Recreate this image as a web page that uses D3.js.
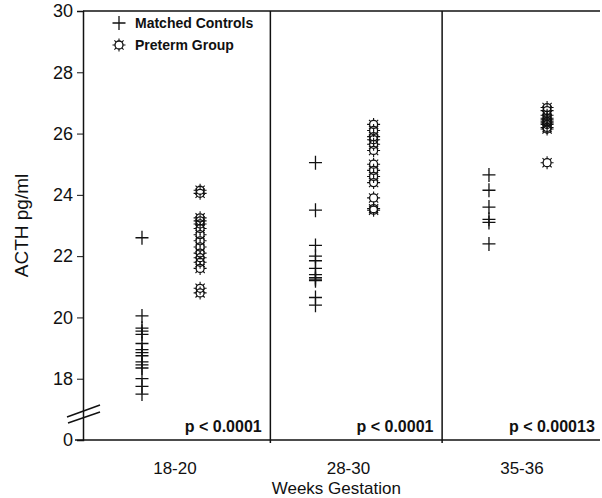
<!DOCTYPE html>
<html><head><meta charset="utf-8">
<script src="https://cdn.jsdelivr.net/npm/d3@7"></script>
<style>body{margin:0;background:#fff}svg{display:block}text{font-family:"Liberation Sans",Arial,sans-serif;fill:#111}</style>
</head><body><svg id="c" width="602" height="498"></svg>
<script>
const groups = ["18-20", "28-30", "35-36"];
const controls1 = [22.6, 20.05, 19.65, 19.55, 19.45, 19.15, 18.95, 18.85, 18.75, 18.55, 18.45, 18.35, 18.0, 17.75, 17.5];
const preterm1 = [24.15, 24.05, 23.25, 23.15, 23.05, 22.9, 22.7, 22.5, 22.3, 22.1, 21.95, 21.8, 21.6, 20.95, 20.8];
const controls2 = [25.05, 23.5, 22.35, 22.0, 21.85, 21.6, 21.4, 21.3, 21.25, 21.2, 20.65, 20.4];
const preterm2 = [26.3, 26.1, 25.9, 25.8, 25.65, 25.45, 25.0, 24.8, 24.6, 24.4, 23.9, 23.55, 23.5];
const controls3 = [24.65, 24.15, 23.6, 23.2, 23.1, 22.4];
const preterm3 = [26.85, 26.75, 26.6, 26.5, 26.45, 26.4, 26.35, 26.3, 26.2, 26.15, 25.05];
const pLabels = ["p < 0.0001", "p < 0.0001", "p < 0.00013"];
const yTicks = [18, 20, 22, 24, 26, 28, 30];
const seriesNames = ["Matched Controls", "Preterm Group"];

const controls = [controls1, controls2, controls3];
const preterm = [preterm1, preterm2, preterm3];

const svg = d3.select("#c");
const x = d3.scaleLinear().domain([-0.34, 2.64]).range([83, 600]);
const y = d3.scaleLinear().domain([16, 30]).range([440, 11]);
const ink = "#111";

// frame
svg.append("line").attr("x1", x(-0.34)).attr("x2", 600).attr("y1", y(30)).attr("y2", y(30)).attr("stroke", ink).attr("stroke-width", 1.5);
svg.append("line").attr("x1", 75).attr("x2", 600).attr("y1", y(16)).attr("y2", y(16)).attr("stroke", ink).attr("stroke-width", 1.5);
[0.74, 1.73].forEach(p => {
  svg.append("line").attr("x1", x(p)).attr("x2", x(p)).attr("y1", y(30)).attr("y2", y(16) + 3).attr("stroke", ink).attr("stroke-width", 1.5);
});

// y axis
const yAxis = d3.axisLeft(y).tickValues(yTicks).tickSize(6).tickPadding(4).tickFormat(d3.format("d"));
const ga = svg.append("g").attr("transform", `translate(${x(-0.34)},0)`).call(yAxis);
ga.select(".domain").attr("stroke", ink).attr("stroke-width", 1.5);
ga.selectAll(".tick line").attr("stroke", ink);
ga.selectAll("text").attr("font-size", 18).style("font-family", "Liberation Sans, Arial, sans-serif").attr("fill", ink);
svg.append("text").attr("x", x(-0.34) - 10).attr("y", y(16)).attr("dy", "0.35em").attr("text-anchor", "end").attr("font-size", 18).text("0");

// axis break
const bx = x(-0.34);
svg.append("line").attr("x1", bx - 16).attr("y1", y(16) - 23).attr("x2", bx + 17).attr("y2", y(16) - 35).attr("stroke", ink).attr("stroke-width", 1.4);
svg.append("line").attr("x1", bx - 15).attr("y1", y(16) - 17).attr("x2", bx + 17).attr("y2", y(16) - 28).attr("stroke", ink).attr("stroke-width", 1.4);

// x labels
groups.forEach((g, i) => {
  svg.append("text").attr("x", x(i + 0.19)).attr("y", y(16) + 34).attr("text-anchor", "middle").attr("font-size", 17).text(g);
});
svg.append("text").attr("x", x(1.12)).attr("y", 494).attr("text-anchor", "middle").attr("font-size", 17).text("Weeks Gestation");
svg.append("text").attr("transform", `translate(28,${y(23)}) rotate(-90)`).attr("text-anchor", "middle").attr("font-size", 19).text("ACTH pg/ml");

// p labels
const pRight = [0.69, 1.68, 2.61];
pLabels.forEach((p, i) => {
  svg.append("text").attr("x", x(pRight[i])).attr("y", y(16) - 8).attr("text-anchor", "end").attr("font-size", 16).attr("font-weight", "bold").text(p);
});

// symbols
function cross(g, cx, cy) {
  g.append("path").attr("d", `M${cx - 6.5},${cy}H${cx + 6.5}M${cx},${cy - 7}V${cy + 7}`).attr("stroke", ink).attr("stroke-width", 1.3).attr("fill", "none");
}
function sun(g, cx, cy) {
  let d = "";
  for (let k = 0; k < 8; k++) {
    const a = k * Math.PI / 4;
    d += `M${cx + 4 * Math.cos(a)},${cy + 4 * Math.sin(a)}L${cx + 6.5 * Math.cos(a)},${cy + 6.5 * Math.sin(a)}`;
  }
  g.append("path").attr("d", d).attr("stroke", ink).attr("stroke-width", 1.1).attr("fill", "none");
  g.append("circle").attr("cx", cx).attr("cy", cy).attr("r", 4).attr("fill", "none").attr("stroke", ink).attr("stroke-width", 1.3);
}
const pts = svg.append("g");
controls.forEach((arr, i) => arr.forEach(v => cross(pts, x(i), y(v))));
preterm.forEach((arr, i) => arr.forEach(v => sun(pts, x(i + 0.335), y(v))));

// legend
const lg = svg.append("g");
cross(lg, 119, 23);
sun(lg, 119, 45);
lg.append("text").attr("x", 135).attr("y", 23).attr("dy", "0.35em").attr("font-size", 14).attr("font-weight", "bold").text(seriesNames[0]);
lg.append("text").attr("x", 135).attr("y", 45).attr("dy", "0.35em").attr("font-size", 14).attr("font-weight", "bold").text(seriesNames[1]);
</script></body></html>
